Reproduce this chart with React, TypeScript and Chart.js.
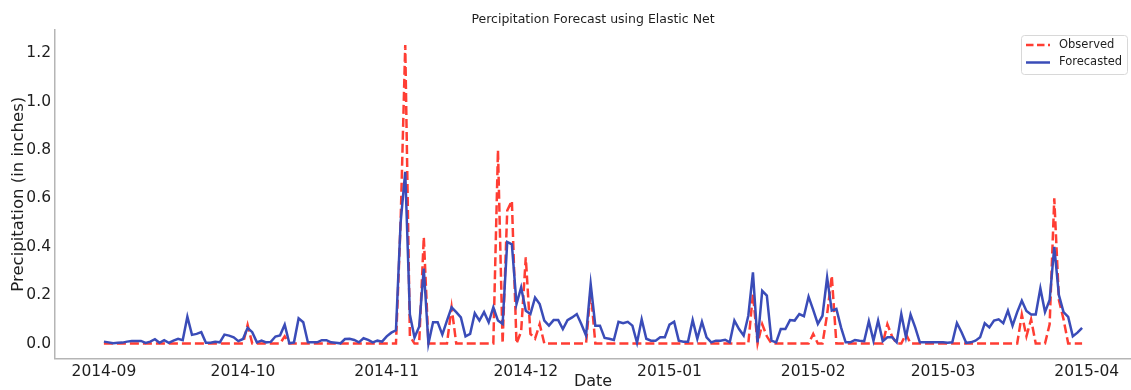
import React, { useEffect, useRef } from "react";
import { Chart, registerables } from "chart.js";

Chart.register(...registerables);

// ---- Data (daily, day index 0 = 2014-09-01) ----
const chartTitle = "Percipitation Forecast using Elastic Net";
const seriesNames = ["Observed", "Forecasted"];
const monthTickDays = [0, 30, 61, 91, 122, 153, 181, 212];
const monthTickLabels = ["2014-09", "2014-10", "2014-11", "2014-12", "2015-01", "2015-02", "2015-03", "2015-04"];
const yTickValues = [0, 0.2, 0.4, 0.6, 0.8, 1.0, 1.2];

const observed = [
  0, 0, 0, 0, 0, 0, 0, 0, 0, 0,
  0, 0, 0, 0, 0, 0, 0, 0, 0, 0,
  0, 0, 0, 0, 0, 0, 0, 0, 0, 0,
  0, 0.077, 0, 0, 0, 0, 0, 0, 0, 0.03,
  0, 0, 0, 0, 0, 0, 0, 0, 0, 0,
  0, 0, 0, 0, 0, 0, 0, 0, 0, 0,
  0, 0, 0, 0, 0.5, 1.234, 0.03, 0, 0, 0.44,
  0, 0, 0, 0, 0, 0.15, 0, 0, 0, 0,
  0, 0, 0, 0, 0, 0.8, 0, 0.55, 0.59, 0,
  0.05, 0.356, 0.04, 0.02, 0.08, 0, 0, 0, 0, 0,
  0, 0, 0, 0, 0, 0.22, 0, 0, 0, 0,
  0, 0, 0, 0, 0, 0, 0, 0, 0, 0,
  0, 0, 0, 0, 0, 0, 0, 0, 0, 0,
  0, 0, 0, 0, 0, 0, 0, 0, 0, 0,
  0.205, 0, 0.08, 0.03, 0, 0, 0, 0, 0, 0,
  0, 0, 0, 0.04, 0, 0, 0.12, 0.28, 0, 0,
  0, 0, 0, 0, 0, 0, 0, 0, 0, 0.08,
  0.03, 0, 0, 0.04, 0, 0, 0, 0, 0, 0,
  0, 0, 0, 0, 0, 0, 0, 0, 0, 0,
  0, 0, 0, 0, 0, 0, 0, 0, 0.12, 0.03,
  0.1, 0, 0, 0, 0.08, 0.6, 0.18, 0.1, 0, 0,
  0, 0,
];

const forecasted = [
  0.008, 0.005, 0.001, 0.003, 0.004, 0.008, 0.011, 0.011, 0.011, 0.003,
  0.008, 0.018, 0.003, 0.014, 0.003, 0.012, 0.02, 0.014, 0.111, 0.036,
  0.04, 0.047, 0.003, 0.003, 0.007, 0.005, 0.037, 0.033, 0.026, 0.01,
  0.019, 0.065, 0.047, 0.005, 0.012, 0.005, 0.007, 0.029, 0.034, 0.078,
  0.001, 0.005, 0.104, 0.088, 0.005, 0.005, 0.005, 0.014, 0.014, 0.005,
  0.003, 0.001, 0.019, 0.02, 0.015, 0.005, 0.022, 0.015, 0.005, 0.012,
  0.008, 0.03, 0.045, 0.055, 0.5, 0.71, 0.12, 0.025, 0.07, 0.31,
  0.0, 0.088, 0.088, 0.037, 0.095, 0.15, 0.13, 0.108, 0.03, 0.04,
  0.125, 0.095, 0.13, 0.088, 0.15, 0.095, 0.081, 0.42, 0.41, 0.163,
  0.232, 0.136, 0.122, 0.19, 0.163, 0.095, 0.074, 0.097, 0.097, 0.06,
  0.097, 0.108, 0.122, 0.08, 0.033, 0.246, 0.074, 0.074, 0.023, 0.02,
  0.015, 0.09, 0.084, 0.09, 0.074, 0.003, 0.1, 0.02, 0.012, 0.012,
  0.026, 0.026, 0.078, 0.09, 0.012, 0.008, 0.008, 0.097, 0.02, 0.09,
  0.026, 0.005, 0.012, 0.012, 0.016, 0.005, 0.095, 0.06, 0.033, 0.115,
  0.294, 0.005, 0.218, 0.198, 0.012, 0.005, 0.06, 0.06, 0.097, 0.095,
  0.122, 0.113, 0.194, 0.139, 0.081, 0.115, 0.273, 0.136, 0.143, 0.067,
  0.005, 0.005, 0.015, 0.012, 0.01, 0.092, 0.012, 0.095, 0.01, 0.026,
  0.026, 0.005, 0.122, 0.026, 0.12, 0.067, 0.005, 0.005, 0.005, 0.005,
  0.005, 0.005, 0.003, 0.005, 0.085, 0.047, 0.003, 0.005, 0.012, 0.026,
  0.084, 0.067, 0.095, 0.1, 0.084, 0.136, 0.074, 0.13, 0.177, 0.135,
  0.12, 0.12, 0.228, 0.13, 0.18, 0.4, 0.2, 0.13, 0.11, 0.03,
  0.045, 0.065,
];

const FONT = "'DejaVu Sans', 'Liberation Sans', sans-serif";
const RED = "#ff3d33";
const BLUE = "#3a4cb8";
const TEXT = "#1e1e1e";

const overlayPlugin = {
  id: "overlay",
  afterDraw(chart: any) {
    const ctx = chart.ctx as CanvasRenderingContext2D;
    const area = chart.chartArea;
    ctx.save();
    // Title
    ctx.font = `12.5px ${FONT}`;
    ctx.fillStyle = TEXT;
    ctx.textAlign = "center";
    ctx.textBaseline = "middle";
    ctx.fillText(chartTitle, (area.left + area.right) / 2, 20);

    // Legend box
    const bx = 1021.5, by = 35.5, bw = 106, bh = 39, r = 3;
    ctx.beginPath();
    ctx.moveTo(bx + r, by);
    ctx.lineTo(bx + bw - r, by);
    ctx.arcTo(bx + bw, by, bx + bw, by + r, r);
    ctx.lineTo(bx + bw, by + bh - r);
    ctx.arcTo(bx + bw, by + bh, bx + bw - r, by + bh, r);
    ctx.lineTo(bx + r, by + bh);
    ctx.arcTo(bx, by + bh, bx, by + bh - r, r);
    ctx.lineTo(bx, by + r);
    ctx.arcTo(bx, by, bx + r, by, r);
    ctx.closePath();
    ctx.fillStyle = "rgba(255,255,255,0.85)";
    ctx.fill();
    ctx.strokeStyle = "#d8d8d8";
    ctx.lineWidth = 1;
    ctx.stroke();

    const rows = [
      { name: seriesNames[0], color: RED, dash: [7.5, 3.5], y: 45 },
      { name: seriesNames[1], color: BLUE, dash: [], y: 62.5 },
    ];
    rows.forEach((row) => {
      ctx.beginPath();
      ctx.setLineDash(row.dash);
      ctx.strokeStyle = row.color;
      ctx.lineWidth = 2.5;
      ctx.moveTo(1026, row.y);
      ctx.lineTo(1050, row.y);
      ctx.stroke();
      ctx.setLineDash([]);
      ctx.font = `11.5px ${FONT}`;
      ctx.fillStyle = TEXT;
      ctx.textAlign = "left";
      ctx.textBaseline = "middle";
      ctx.fillText(row.name, 1059, row.y);
    });
    ctx.restore();
  },
};

export default function App() {
  const canvasRef = useRef<HTMLCanvasElement | null>(null);

  useEffect(() => {
    document.body.style.margin = "0";
    const canvas = canvasRef.current;
    if (!canvas) return;
    const yMax = Math.max(...observed, ...forecasted);
    const yPad = yMax * 0.05;
    const n = observed.length;
    const xPad = (n - 1) * 0.05;

    const chart = new Chart(canvas, {
      type: "line",
      data: {
        datasets: [
          {
            label: seriesNames[0],
            data: observed.map((v, i) => ({ x: i, y: v })),
            borderColor: RED,
            borderWidth: 2.5,
            borderDash: [9, 4],
            pointRadius: 0,
            fill: false,
            tension: 0,
            order: 2,
          },
          {
            label: seriesNames[1],
            data: forecasted.map((v, i) => ({ x: i, y: v })),
            borderColor: BLUE,
            borderWidth: 2.5,
            pointRadius: 0,
            fill: false,
            tension: 0,
            order: 1,
          },
        ],
      },
      options: {
        animation: false,
        responsive: false,
        devicePixelRatio: 1,
        layout: { padding: { top: 30, left: 0, right: 0, bottom: 0 } },
        plugins: {
          legend: { display: false },
          title: { display: false },
          tooltip: { enabled: false },
        },
        scales: {
          x: {
            type: "linear",
            min: -xPad,
            max: n - 1 + xPad,
            grid: { display: false, drawTicks: false },
            border: { display: true, color: "#b5b5b5", width: 1.5 },
            ticks: {
              autoSkip: false,
              maxRotation: 0,
              padding: 4,
              color: TEXT,
              font: { family: FONT, size: 15.5 },
              callback: (value: any) => {
                const idx = monthTickDays.indexOf(Number(value));
                return idx >= 0 ? monthTickLabels[idx] : "";
              },
            },
            afterBuildTicks: (scale: any) => {
              scale.ticks = monthTickDays.map((v) => ({ value: v }));
            },
            afterFit: (scale: any) => {
              scale.height = 31.5;
            },
            title: {
              display: true,
              text: "Date",
              color: TEXT,
              font: { family: FONT, size: 16, lineHeight: 1 },
              padding: { top: 0, bottom: 0 },
            },
          },
          y: {
            type: "linear",
            min: -yPad,
            max: yMax + yPad,
            grid: { display: false, drawTicks: false },
            border: { display: true, color: "#b5b5b5", width: 1.5 },
            ticks: {
              padding: 4,
              color: TEXT,
              font: { family: FONT, size: 15.5 },
              callback: (value: any) => Number(value).toFixed(1),
            },
            afterBuildTicks: (scale: any) => {
              scale.ticks = yTickValues.map((v) => ({ value: v }));
            },
            afterFit: (scale: any) => {
              scale.width = 55;
            },
            title: {
              display: true,
              text: "Precipitation (in inches)",
              color: TEXT,
              font: { family: FONT, size: 16.5, lineHeight: 1 },
              padding: { top: 10, bottom: 0 },
            },
          },
        },
      },
      plugins: [overlayPlugin],
    });

    return () => {
      chart.destroy();
    };
  }, []);

  return (
    <div style={{ width: 1131, height: 390, position: "relative" }}>
      <canvas ref={canvasRef} width={1131} height={390} style={{ display: "block" }} />
    </div>
  );
}
